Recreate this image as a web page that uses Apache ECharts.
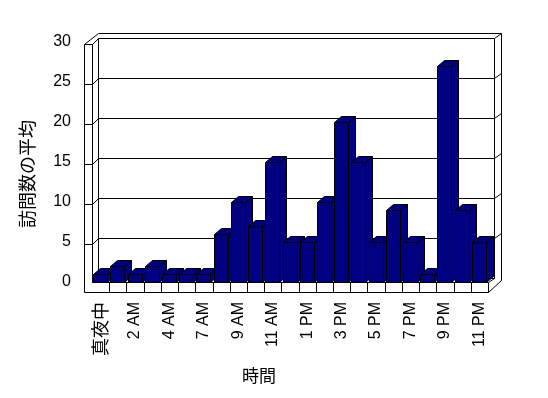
<!DOCTYPE html>
<html>
<head>
<meta charset="utf-8">
<script src="https://cdn.jsdelivr.net/npm/echarts@6/dist/echarts.min.js"></script>
<style>
  html, body { margin: 0; padding: 0; background: #fff; }
  #chart { width: 548px; height: 398px; }
</style>
</head>
<body>
<div id="chart"></div>
<script>
// 時間帯ごとの平均訪問数 (6 AM は元データに無い)
const HOURS = [
  "真夜中", "1 AM", "2 AM", "3 AM", "4 AM", "5 AM", "7 AM", "8 AM",
  "9 AM", "10 AM", "11 AM", "12 PM", "1 PM", "2 PM", "3 PM", "4 PM",
  "5 PM", "6 PM", "7 PM", "8 PM", "9 PM", "10 PM", "11 PM",
];
const VISITS = [1, 2, 1, 2, 1, 1, 1, 6, 10, 7, 15, 5, 5, 10, 20, 15, 5, 9, 5, 1, 27, 9, 5];
const Y_TICKS = [0, 5, 10, 15, 20, 25, 30];

const X_TITLE = "時間";
const Y_TITLE = "訪問数の平均";

const BAR_COLOR = "#000080";
const LINE = "#000";
const FONT = "'Liberation Sans', 'Noto Sans CJK JP', sans-serif";
const JP_FONT = "'Noto Sans CJK JP', sans-serif";

// 疑似3D: 手前の面 -> 奥の壁までのずれ、壁の厚み、棒の奥行き
const WALL_DX = 6, WALL_DY = 4;
const OUTER_DX = 7, OUTER_DY = 5;
const SLAB = 8.5;      // 左の壁 / 床の手前面の厚み
const FLOOR_H = 10;
const BAR_W = 14, BAR_DX = 7, BAR_DY = 6;

const px = v => Math.round(v) + 0.5;

function renderFrame(params, api) {
  const band = api.size([1, 0])[0];
  const xL = api.coord([0, 0])[0] - band / 2;
  const xR = api.coord([HOURS.length - 1, 0])[0] + band / 2;
  const y = v => api.coord([0, v])[1];
  const y0 = y(0);
  const yMax = y(Y_TICKS[Y_TICKS.length - 1]);
  const bx0 = xL + WALL_DX, bx1 = xR + WALL_DX;
  const yb = v => y(v) - WALL_DY;
  const outerTop = yb(Y_TICKS[Y_TICKS.length - 1]) - OUTER_DY;
  const outerR = bx1 + OUTER_DX;
  const xOut = xL - SLAB;
  const yBot = y0 + FLOOR_H;

  const children = [];
  const line = (x1, y1, x2, y2) => children.push({
    type: "line",
    shape: { x1: px(x1), y1: px(y1), x2: px(x2), y2: px(y2) },
    style: { stroke: LINE, lineWidth: 1 },
  });

  // 奥の壁の目盛線
  Y_TICKS.forEach(v => line(bx0, yb(v), bx1, yb(v)));
  line(bx0, yb(Y_TICKS[Y_TICKS.length - 1]), bx0, yb(0));
  line(bx1, yb(Y_TICKS[Y_TICKS.length - 1]), bx1, yb(0));
  // 壁の外枠
  line(bx0, outerTop, outerR, outerTop);
  line(outerR, outerTop, outerR, yBot - 12);
  line(xOut, yMax + 2, bx0, outerTop);
  // 左の壁
  line(xOut, yMax + 2, xL, yMax + 2);
  line(xOut, yMax + 2, xOut, yBot);
  line(xL, yMax + 2, xL, y0);
  Y_TICKS.forEach(v => {
    if (v === 0) { line(xL, y0, bx0, yb(0)); return; }
    line(xOut, y(v) + 2, xL, y(v) + 2);
    line(xL, y(v) + 2, bx0, yb(v));
    line(bx1, yb(v), outerR, yb(v) - OUTER_DY);
  });
  // 床
  line(xL, y0, xR, y0);
  line(xOut, yBot, xR, yBot);
  for (let k = 1; k <= HOURS.length; k++) {
    const x = xL + k * band;
    line(x, y0, x, yBot);
  }
  line(xR, y0, bx1, yb(0));
  line(xR, yBot, outerR, yBot - 12);

  return { type: "group", children };
}

function renderBar(params, api) {
  const idx = api.value(0);
  const [cx, yt] = api.coord([idx, api.value(1)]);
  const yb = api.coord([idx, 0])[1];
  const x0 = Math.round(cx - BAR_W / 2 - 0.5) + 0.5;
  const x1 = x0 + BAR_W;
  const t = Math.round(yt) + 0.5;
  const b = Math.round(yb) + 0.5;
  const style = { fill: BAR_COLOR, stroke: LINE, lineWidth: 1 };
  const poly = points => ({ type: "polygon", shape: { points }, style });
  return {
    type: "group",
    children: [
      poly([[x1, t], [x1 + BAR_DX, t - BAR_DY], [x1 + BAR_DX, b - BAR_DY], [x1, b]]),
      poly([[x0, t], [x1, t], [x1 + BAR_DX, t - BAR_DY], [x0 + BAR_DX, t - BAR_DY]]),
      poly([[x0, t], [x1, t], [x1, b], [x0, b]]),
    ],
  };
}

const chart = echarts.init(document.getElementById("chart"), null, { renderer: "canvas" });
chart.setOption({
  animation: false,
  backgroundColor: "#fff",
  grid: { left: 92, right: 60, top: 42, bottom: 116, outerBoundsMode: "none" },
  xAxis: {
    type: "category",
    data: HOURS,
    axisLine: { show: false },
    axisTick: { show: false },
    axisLabel: {
      interval: 1,
      rotate: 90,
      margin: 20,
      color: "#000",
      fontSize: 16,
      fontFamily: FONT,
      formatter: v => v === "真夜中" ? `{jp|${v}}` : v,
      rich: { jp: { fontSize: 18, fontFamily: JP_FONT, color: "#000" } },
    },
  },
  yAxis: {
    type: "value",
    min: Y_TICKS[0],
    max: Y_TICKS[Y_TICKS.length - 1],
    interval: Y_TICKS[1] - Y_TICKS[0],
    axisLine: { show: false },
    axisTick: { show: false },
    splitLine: { show: false },
    axisLabel: { margin: 21, color: "#000", fontSize: 16, fontFamily: FONT },
  },
  graphic: [
    {
      type: "text", x: 27, y: 174, rotation: Math.PI / 2,
      style: { text: Y_TITLE, fill: "#000", font: `18px ${JP_FONT}`, align: "center", verticalAlign: "middle" },
    },
    {
      type: "text", x: 259, y: 376,
      style: { text: X_TITLE, fill: "#000", font: `17px ${JP_FONT}`, align: "center", verticalAlign: "middle" },
    },
  ],
  series: [
    { type: "custom", silent: true, z: 1, data: [[0, 0]], renderItem: renderFrame },
    { type: "custom", z: 2, data: VISITS.map((v, i) => [i, v]), renderItem: renderBar },
  ],
});
</script>
</body>
</html>
